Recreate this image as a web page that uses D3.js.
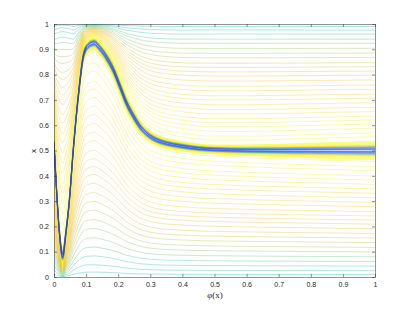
<!DOCTYPE html>
<html>
<head>
<meta charset="utf-8">
<script src="https://cdn.jsdelivr.net/npm/d3@7"></script>
<style>
body { margin: 0; background: #fff; }
text { font-family: "Liberation Sans", Arial, sans-serif; }
</style>
</head>
<body>
<script>
// ridge of the field
var ridgePhi = [0, 0.005, 0.010, 0.017, 0.027, 0.037, 0.048, 0.060, 0.079, 0.091, 0.105, 0.125, 0.143, 0.165, 0.185, 0.205, 0.226, 0.250, 0.268, 0.290, 0.309, 0.330, 0.351, 0.393, 0.450, 0.500, 0.600, 0.700, 0.800, 0.900, 1.000];
var ridgeX   = [0.53, 0.41, 0.30, 0.174, 0.083, 0.174, 0.304, 0.502, 0.753, 0.870, 0.912, 0.925, 0.904, 0.865, 0.818, 0.755, 0.687, 0.630, 0.594, 0.565, 0.548, 0.536, 0.528, 0.518, 0.508, 0.504, 0.501, 0.500, 0.500, 0.500, 0.500];
// half width of the dense band round the ridge
var bandHalf = [0.02, 0.02, 0.02, 0.022, 0.035, 0.022, 0.02, 0.02, 0.022, 0.025, 0.027, 0.027, 0.028, 0.030, 0.031, 0.031, 0.030, 0.028, 0.026, 0.024, 0.022, 0.021, 0.020, 0.019, 0.018, 0.018, 0.021, 0.025, 0.029, 0.033, 0.037];

// contour lines: height where they meet phi = 1, and colour level
var upperEnds   = [0.99, 0.976, 0.960, 0.940, 0.924, 0.904, 0.885, 0.868, 0.847, 0.831, 0.814, 0.798, 0.779, 0.759, 0.742, 0.723, 0.707, 0.689, 0.671, 0.654, 0.636, 0.621, 0.605, 0.588, 0.570, 0.555];
var upperLevels = [0.42, 0.45, 0.48, 0.52, 0.56, 0.60, 0.63, 0.67, 0.70, 0.74, 0.77, 0.80, 0.82, 0.84, 0.86, 0.87, 0.88, 0.89, 0.90, 0.92, 0.93, 0.95, 0.96, 0.97, 0.98, 0.99];
var lowerEnds   = [0.456, 0.436, 0.420, 0.399, 0.383, 0.366, 0.348, 0.331, 0.313, 0.295, 0.278, 0.258, 0.241, 0.225, 0.209, 0.191, 0.172, 0.154, 0.136, 0.117, 0.099, 0.080, 0.061, 0.043, 0.025, 0.010];
var lowerLevels = [0.99, 0.98, 0.97, 0.96, 0.95, 0.93, 0.92, 0.90, 0.89, 0.88, 0.87, 0.86, 0.84, 0.82, 0.80, 0.77, 0.74, 0.70, 0.67, 0.63, 0.60, 0.56, 0.52, 0.48, 0.45, 0.42];
// band lines as a fraction of the half width
var bandOffsets = [1.0, 0.92, 0.84, 0.76, 0.68, 0.60, 0.54, 0.48, 0.43, 0.38, 0.33, 0.28, 0.23, 0.18, 0.13, 0.08];
var bandLevels  = [1.0, 1.0, 1.0, 0.99, 0.97, 0.94, 0.88, 0.78, 0.62, 0.48, 0.35, 0.25, 0.16, 0.10, 0.05, 0.02];

var xTicks = [0, 0.1, 0.2, 0.3, 0.4, 0.5, 0.6, 0.7, 0.8, 0.9, 1];
var yTicks = [0, 0.1, 0.2, 0.3, 0.4, 0.5, 0.6, 0.7, 0.8, 0.9, 1];

var parula = ["#3b35c8", "#3a52ee", "#2c7ef6", "#1a9ed9", "#06b2b8", "#32bf8f", "#86c45a", "#c8c02a", "#f7b733", "#f9d323", "#f9fb15"];

var width = 415, height = 312;
var x = d3.scaleLinear().domain([0, 1]).range([54, 375]);
var y = d3.scaleLinear().domain([0, 1]).range([277, 24]);
var colour = d3.scaleLinear()
    .domain(d3.range(parula.length).map(function(i) { return i / (parula.length - 1); }))
    .range(parula)
    .interpolate(d3.interpolateRgb);

var svg = d3.select("body").append("svg")
    .attr("width", width)
    .attr("height", height);

svg.append("clipPath").attr("id", "clip")
  .append("rect")
    .attr("x", 54).attr("y", 24)
    .attr("width", 321).attr("height", 253);

var n = ridgePhi.length - 1;
var eta = 0.5;

function upperLine(xe) {
  var bEnd = ridgeX[n] + bandHalf[n];
  var t = (xe - bEnd) / (1 - bEnd);
  return ridgePhi.map(function(p, i) {
    var b = ridgeX[i] + bandHalf[i];
    var pw = Math.max(1, Math.pow((1 - b) / (1 - bEnd), eta));
    var s = 1 - Math.pow(1 - t, pw);
    return [p, b + (1 - b) * s];
  });
}

function lowerLine(xe) {
  var bEnd = ridgeX[n] - bandHalf[n];
  return ridgePhi.map(function(p, i) {
    var b = ridgeX[i] - bandHalf[i];
    return [p, xe * b / bEnd];
  });
}

function bandLine(u) {
  return ridgePhi.map(function(p, i) {
    return [p, ridgeX[i] + u * bandHalf[i]];
  });
}

var lines = [];
upperEnds.forEach(function(v, i) { lines.push({pts: upperLine(v), level: upperLevels[i], band: false}); });
lowerEnds.forEach(function(v, i) { lines.push({pts: lowerLine(v), level: lowerLevels[i], band: false}); });
bandOffsets.forEach(function(u, i) {
  lines.push({pts: bandLine(u), level: bandLevels[i], band: true});
  lines.push({pts: bandLine(-u), level: bandLevels[i], band: true});
});
lines.sort(function(a, b) { return b.level - a.level; });

var line = d3.line()
    .x(function(d) { return x(d[0]); })
    .y(function(d) { return y(d[1]); })
    .curve(d3.curveMonotoneX);

svg.append("g")
    .attr("clip-path", "url(#clip)")
  .selectAll("path")
  .data(lines)
  .enter().append("path")
    .attr("d", function(d) { return line(d.pts); })
    .attr("fill", "none")
    .attr("stroke", function(d) { return colour(d.level); })
    .attr("stroke-width", 0.5)
    .attr("stroke-opacity", function(d) { return d.band ? 0.9 : 0.7; });

var fmt = d3.format("~g");

function style(g) {
  g.selectAll(".domain").attr("stroke", "#262626").attr("stroke-width", 0.5);
  g.selectAll(".tick line").attr("stroke", "#262626").attr("stroke-width", 0.5);
  g.selectAll(".tick text").attr("fill", "#262626").style("font-size", "7px");
}

svg.append("g")
    .attr("transform", "translate(0,277)")
    .call(d3.axisBottom(x).tickValues(xTicks).tickFormat(fmt).tickSizeInner(-3).tickSizeOuter(0).tickPadding(5))
    .call(style);
svg.append("g")
    .attr("transform", "translate(0,24)")
    .call(d3.axisTop(x).tickValues(xTicks).tickFormat("").tickSizeInner(-3).tickSizeOuter(0))
    .call(style);
svg.append("g")
    .attr("transform", "translate(54,0)")
    .call(d3.axisLeft(y).tickValues(yTicks).tickFormat(fmt).tickSizeInner(-3).tickSizeOuter(0).tickPadding(5))
    .call(style);
svg.append("g")
    .attr("transform", "translate(375,0)")
    .call(d3.axisRight(y).tickValues(yTicks).tickFormat("").tickSizeInner(-3).tickSizeOuter(0))
    .call(style);

svg.append("text")
    .attr("transform", "translate(36,151) rotate(-90)")
    .attr("text-anchor", "middle")
    .attr("fill", "#262626")
    .style("font-size", "8px")
    .text("x");

svg.append("text")
    .attr("x", 215).attr("y", 298)
    .attr("text-anchor", "middle")
    .attr("fill", "#262626")
    .style("font-family", "'Liberation Serif', serif")
    .style("font-size", "9px")
    .html("<tspan font-style='italic'>φ</tspan>(x)");
</script>
</body>
</html>
